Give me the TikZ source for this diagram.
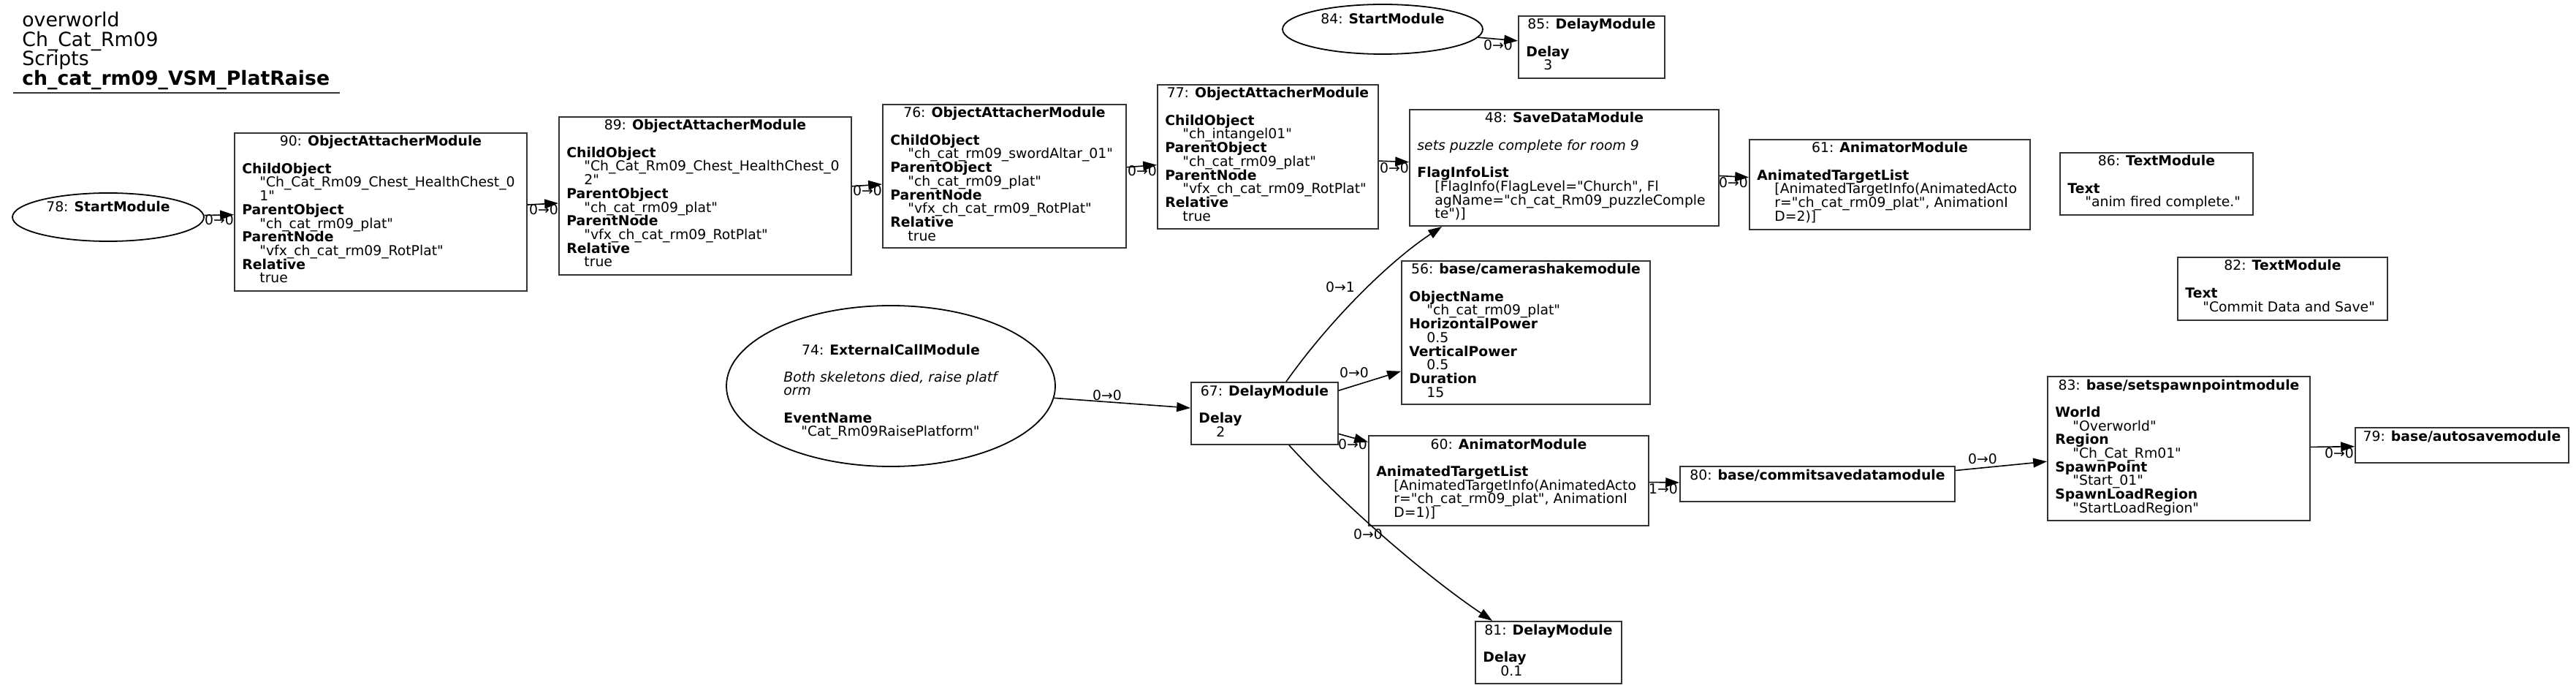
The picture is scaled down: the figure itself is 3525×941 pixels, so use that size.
\documentclass[tikz,border=0pt]{standalone}
\usepackage{fontspec}
\setmainfont{DejaVu Sans}[Ligatures=TeXOff]
\usetikzlibrary{arrows.meta,calc,shapes.geometric}
\newcommand\bodyf{\fontsize{9.4pt}{9.335pt}\selectfont}
\newcommand\titlef{\fontsize{13.35pt}{13.25pt}\selectfont}
\newcommand\kvt[2][9.335pt]{\vtop{\baselineskip=#1\lineskiplimit=-50pt\lineskip=0pt\relax#2}}
\newcommand\kb[1]{\hbox{\bfseries #1}}
\newcommand\kv[1]{\hbox{\hskip12pt #1}}
\newcommand\ke{\hbox{}}
\newcommand\ki[1]{\hbox{\itshape #1}}
\tikzset{
 mbox/.style 2 args={rectangle, draw=black!80, line width=1pt, minimum width=#1*0.5pt, minimum height=#2*0.5pt, inner sep=0pt},
 mell/.style 2 args={ellipse, draw=black, line width=0.9pt, minimum width=#1*0.5pt, minimum height=#2*0.5pt, inner sep=0pt},
 ttl/.style={anchor=base, inner sep=0pt, font=\bodyf},
 bod/.style={anchor=base west, inner sep=0pt, font=\bodyf},
 lbl/.style={inner sep=0pt, font=\bodyf},
 conn/.style={draw=black, line width=0.8pt, -{Triangle[length=9.4pt,width=6.4pt]}},
}
\begin{document}
\begin{tikzpicture}[x=0.5pt,y=-0.5pt]
\useasboundingbox (0,0) rectangle (3525,941);
\fill[white] (0,0) rectangle (3525,941);

% header
\node[anchor=base west, inner sep=0pt, font=\titlef] (hdr) at (30,37)
  {\kvt[13.25pt]{\hbox{overworld}\hbox{Ch\_Cat\_Rm09}\hbox{Scripts}\hbox{\bfseries ch\_cat\_rm09\_VSM\_PlatRaise}}};
\draw[line width=1pt, black!80] (18,127) -- (465,127);

% 78
\node[mell={262}{66}] (e78) at (148,297) {};
\node[ttl] (t78) at (148,290) {78: \textbf{StartModule}};

% 90
\node[mbox={400}{216}] (b90) at (521,290) {};
\node[ttl] (t90) at ($(b90.north)+(0,19)$) {90: \textbf{ObjectAttacherModule}};
\node[bod] (d90) at ($(b90.north west)+(11,56.33)$) {\kvt{\kb{ChildObject}\kv{"Ch\_Cat\_Rm09\_Chest\_HealthChest\_0}\kv{1"}\kb{ParentObject}\kv{"ch\_cat\_rm09\_plat"}\kb{ParentNode}\kv{"vfx\_ch\_cat\_rm09\_RotPlat"}\kb{Relative}\kv{true}}};

% 89
\node[mbox={400}{216}] (b89) at (965,268) {};
\node[ttl] (t89) at ($(b89.north)+(0,19)$) {89: \textbf{ObjectAttacherModule}};
\node[bod] (d89) at ($(b89.north west)+(11,56.33)$) {\kvt{\kb{ChildObject}\kv{"Ch\_Cat\_Rm09\_Chest\_HealthChest\_0}\kv{2"}\kb{ParentObject}\kv{"ch\_cat\_rm09\_plat"}\kb{ParentNode}\kv{"vfx\_ch\_cat\_rm09\_RotPlat"}\kb{Relative}\kv{true}}};

% 76
\node[mbox={333}{196}] (b76) at (1374.5,241) {};
\node[ttl] (t76) at ($(b76.north)+(0,19)$) {76: \textbf{ObjectAttacherModule}};
\node[bod] (d76) at ($(b76.north west)+(11,56.33)$) {\kvt{\kb{ChildObject}\kv{"ch\_cat\_rm09\_swordAltar\_01"}\kb{ParentObject}\kv{"ch\_cat\_rm09\_plat"}\kb{ParentNode}\kv{"vfx\_ch\_cat\_rm09\_RotPlat"}\kb{Relative}\kv{true}}};

% 77
\node[mbox={302}{197}] (b77) at (1735,214.5) {};
\node[ttl] (t77) at ($(b77.north)+(0,19)$) {77: \textbf{ObjectAttacherModule}};
\node[bod] (d77) at ($(b77.north west)+(11,56.33)$) {\kvt{\kb{ChildObject}\kv{"ch\_intangel01"}\kb{ParentObject}\kv{"ch\_cat\_rm09\_plat"}\kb{ParentNode}\kv{"vfx\_ch\_cat\_rm09\_RotPlat"}\kb{Relative}\kv{true}}};

% 84
\node[mell={274}{68}] (e84) at (1892,40) {};
\node[ttl] (t84) at (1892,33) {84: \textbf{StartModule}};

% 85
\node[mbox={200}{85}] (b85) at (2178,64.5) {};
\node[ttl] (t85) at ($(b85.north)+(0,19)$) {85: \textbf{DelayModule}};
\node[bod] (d85) at ($(b85.north west)+(11,56.33)$) {\kvt{\kb{Delay}\kv{3}}};

% 48
\node[mbox={423}{159}] (b48) at (2140.5,229.5) {};
\node[ttl] (t48) at ($(b48.north)+(0,19)$) {48: \textbf{SaveDataModule}};
\node[bod] (d48) at ($(b48.north west)+(11,56.33)$) {\kvt{\ki{sets puzzle complete for room 9}\ke\kb{FlagInfoList}\kv{[FlagInfo(FlagLevel="Church", Fl}\kv{agName="ch\_cat\_Rm09\_puzzleComple}\kv{te")]}}};

% 61
\node[mbox={384}{123}] (b61) at (2586,252.5) {};
\node[ttl] (t61) at ($(b61.north)+(0,19)$) {61: \textbf{AnimatorModule}};
\node[bod] (d61) at ($(b61.north west)+(11,56.33)$) {\kvt{\kb{AnimatedTargetList}\kv{[AnimatedTargetInfo(AnimatedActo}\kv{r="ch\_cat\_rm09\_plat", AnimationI}\kv{D=2)]}}};

% 86
\node[mbox={264}{85}] (b86) at (2951,251.5) {};
\node[ttl] (t86) at ($(b86.north)+(0,19)$) {86: \textbf{TextModule}};
\node[bod] (d86) at ($(b86.north west)+(11,56.33)$) {\kvt{\kb{Text}\kv{"anim fired complete."}}};

% 82
\node[mbox={287}{86}] (b82) at (3123.5,395) {};
\node[ttl] (t82) at ($(b82.north)+(0,19)$) {82: \textbf{TextModule}};
\node[bod] (d82) at ($(b82.north west)+(11,56.33)$) {\kvt{\kb{Text}\kv{"Commit Data and Save"}}};

% 56
\node[mbox={340}{196}] (b56) at (2088,455) {};
\node[ttl] (t56) at ($(b56.north)+(0,19)$) {56: \textbf{base/camerashakemodule}};
\node[bod] (d56) at ($(b56.north west)+(11,56.33)$) {\kvt{\kb{ObjectName}\kv{"ch\_cat\_rm09\_plat"}\kb{HorizontalPower}\kv{0.5}\kb{VerticalPower}\kv{0.5}\kb{Duration}\kv{15}}};

% 74
\node[mell={450}{220}] (e74) at (1219,528) {};
\node[ttl] (t74) at (1219,485) {74: \textbf{ExternalCallModule}};
\node[bod] (d74) at (1072,522.3) {\kvt{\ki{Both skeletons died, raise platf}\ki{orm}\ke\kb{EventName}\kv{"Cat\_Rm09RaisePlatform"}}};

% 67
\node[mbox={201}{85}] (b67) at (1730.5,565.5) {};
\node[ttl] (t67) at ($(b67.north)+(0,19)$) {67: \textbf{DelayModule}};
\node[bod] (d67) at ($(b67.north west)+(11,56.33)$) {\kvt{\kb{Delay}\kv{2}}};

% 60
\node[mbox={383}{123}] (b60) at (2064.5,657.5) {};
\node[ttl] (t60) at ($(b60.north)+(0,19)$) {60: \textbf{AnimatorModule}};
\node[bod] (d60) at ($(b60.north west)+(11,56.33)$) {\kvt{\kb{AnimatedTargetList}\kv{[AnimatedTargetInfo(AnimatedActo}\kv{r="ch\_cat\_rm09\_plat", AnimationI}\kv{D=1)]}}};

% 80
\node[mbox={376}{48}] (b80) at (2487,662) {};
\node[ttl] (t80) at ($(b80.north)+(0,19)$) {80: \textbf{base/commitsavedatamodule}};

% 83
\node[mbox={359}{197}] (b83) at (2981.5,613.5) {};
\node[ttl] (t83) at ($(b83.north)+(0,19)$) {83: \textbf{base/setspawnpointmodule}};
\node[bod] (d83) at ($(b83.north west)+(11,56.33)$) {\kvt{\kb{World}\kv{"Overworld"}\kb{Region}\kv{"Ch\_Cat\_Rm01"}\kb{SpawnPoint}\kv{"Start\_01"}\kb{SpawnLoadRegion}\kv{"StartLoadRegion"}}};

% 79
\node[mbox={292}{48}] (b79) at (3369,609) {};
\node[ttl] (t79) at ($(b79.north)+(0,19)$) {79: \textbf{base/autosavemodule}};

% 81
\node[mbox={200}{85}] (b81) at (2119,892.5) {};
\node[ttl] (t81) at ($(b81.north)+(0,19)$) {81: \textbf{DelayModule}};
\node[bod] (d81) at ($(b81.north west)+(11,56.33)$) {\kvt{\kb{Delay}\kv{0.1}}};

% connectors
\draw[conn] (e78) -- (b90);
\draw[conn] (b90) -- (b89);
\draw[conn] (b89) -- (b76);
\draw[conn] (b76) -- (b77);
\draw[conn] (b77) -- (b48);
\draw[conn] (e84) -- (b85);
\draw[conn] (b48) -- (b61);
\draw[conn] (e74) -- (b67);
\draw[conn] ([xshift=14.75pt]b67.north) .. controls (1818,440) and (1899,359) .. ([xshift=-83.75pt]b48.south);
\draw[conn] (b67) -- (b56);
\draw[conn] (b67) -- (b60);
\draw[conn] ([xshift=16.75pt]b67.south) .. controls (1839,691) and (1950,787) .. ([xshift=-38.5pt]b81.north);
\draw[conn] (b60) -- (b80);
\draw[conn] (b80) -- (b83);
\draw[conn] (b83) -- (b79);

% connector labels
\node[lbl] (l1) at (300,301) {0→0};
\node[lbl] (l2) at (744,287) {0→0};
\node[lbl] (l3) at (1187,261) {0→0};
\node[lbl] (l4) at (1563,234) {0→0};
\node[lbl] (l5) at (1908,230) {0→0};
\node[lbl] (l6) at (2050,62) {0→0};
\node[lbl] (l7) at (2372,250) {0→0};
\node[lbl] (l8) at (1515,541) {0→0};
\node[lbl] (l9) at (1834,393) {0→1};
\node[lbl] (l10) at (1853,510) {0→0};
\node[lbl] (l11) at (1851,608) {0→0};
\node[lbl] (l12) at (1872,731) {0→0};
\node[lbl] (l13) at (2276,669) {1→0};
\node[lbl] (l14) at (2713,628) {0→0};
\node[lbl] (l15) at (3201,620) {0→0};
\end{tikzpicture}
\end{document}
